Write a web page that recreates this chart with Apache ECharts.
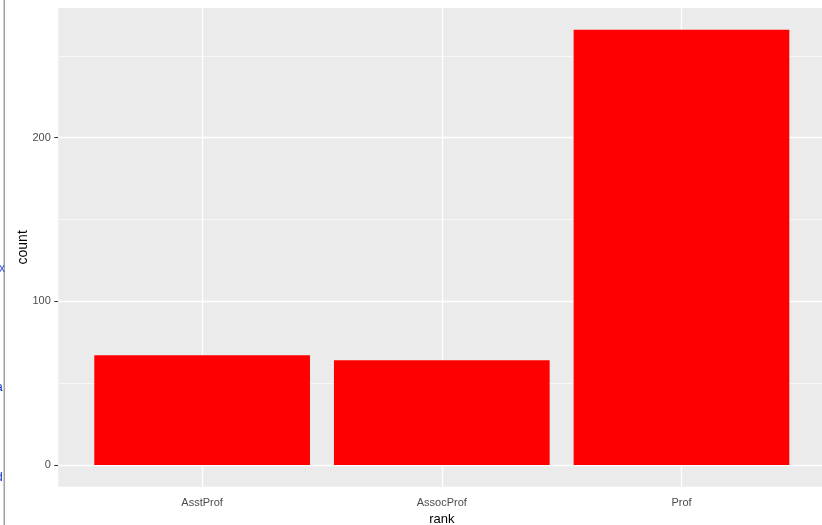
<!DOCTYPE html>
<html>
<head>
<meta charset="utf-8">
<script src="https://cdn.jsdelivr.net/npm/echarts@6/dist/echarts.min.js"></script>
<style>
html,body{margin:0;padding:0;background:#fff;}
#chart{width:822px;height:525px;}
</style>
</head>
<body>
<div id="chart"></div>
<script>
const categories = ['AsstProf', 'AssocProf', 'Prof'];
const counts = [67, 64, 266];
const yMajorTicks = [0, 100, 200];
const yMinorTicks = [50, 150, 250];
const yMin = -13.3;
const yMax = 279.3;

const chart = echarts.init(document.getElementById('chart'), null, {renderer: 'canvas'});
const font = 'Liberation Sans, Arial, sans-serif';

const option = {
  backgroundColor: '#ffffff',
  animation: false,
  grid: [
    {left: 58.3, top: 8, width: 767, height: 478.7, show: true, backgroundColor: '#EBEBEB', borderWidth: 0, containLabel: false, outerBoundsMode: 'none'},
    {left: 82.3, top: 8, width: 719, height: 478.7, show: false, containLabel: false, outerBoundsMode: 'none'}
  ],
  xAxis: [
    {type: 'value', gridIndex: 0, min: 0, max: 1, show: false},
    {
      type: 'category', gridIndex: 1, data: categories,
      axisLine: {show: false},
      axisTick: {show: true, alignWithLabel: true, length: 4, lineStyle: {color: '#333333', width: 1}},
      axisLabel: {color: '#4D4D4D', fontSize: 11, fontFamily: font, margin: 10.5},
      splitLine: {show: false},
      name: 'rank', nameLocation: 'middle', nameGap: 26, nameMoveOverlap: false,
      nameTextStyle: {color: '#000000', fontSize: 13, fontFamily: font}
    }
  ],
  yAxis: [
    {
      type: 'value', gridIndex: 0, min: yMin, max: yMax,
      axisLine: {show: false},
      axisTick: {show: true, length: 4, customValues: yMajorTicks, lineStyle: {color: '#333333', width: 1}},
      axisLabel: {color: '#4D4D4D', fontSize: 11, fontFamily: font, margin: 7.5, customValues: yMajorTicks},
      splitLine: {show: false},
      name: 'count', nameLocation: 'middle', nameGap: 28.5, nameRotate: 90, nameMoveOverlap: false,
      nameTextStyle: {color: '#000000', fontSize: 14, fontFamily: font}
    },
    {type: 'value', gridIndex: 1, min: yMin, max: yMax, show: false}
  ],
  graphic: [
    {type: 'rect', shape: {x: 3.5, y: 0, width: 1.5, height: 525}, style: {fill: '#A0A0A0'}},
    {type: 'text', left: -1, top: 263, style: {text: 'x', fill: '#3355DD', font: '12px ' + font}},
    {type: 'text', left: -4, top: 382, style: {text: 'a', fill: '#1133CC', font: '12px ' + font}},
    {type: 'text', left: -4, top: 472, style: {text: 'd', fill: '#1133CC', font: '12px ' + font}}
  ],
  series: [
    {
      type: 'line', xAxisIndex: 0, yAxisIndex: 0, data: [], silent: true,
      markLine: {
        silent: true, symbol: 'none', z: 1, label: {show: false},
        data: yMajorTicks.map(v => ({yAxis: v, lineStyle: {color: '#FFFFFF', width: 1.3, type: 'solid'}}))
          .concat(yMinorTicks.map(v => ({yAxis: v, lineStyle: {color: '#FFFFFF', width: 0.6, type: 'solid'}})))
      }
    },
    {
      type: 'bar', xAxisIndex: 1, yAxisIndex: 1, data: counts, barWidth: '90%', z: 3,
      itemStyle: {color: '#FF0000'},
      markLine: {
        silent: true, symbol: 'none', z: 1, label: {show: false},
        data: categories.map(c => ({xAxis: c, lineStyle: {color: '#FFFFFF', width: 1.3, type: 'solid'}}))
      }
    }
  ]
};
chart.setOption(option);
</script>
</body>
</html>
